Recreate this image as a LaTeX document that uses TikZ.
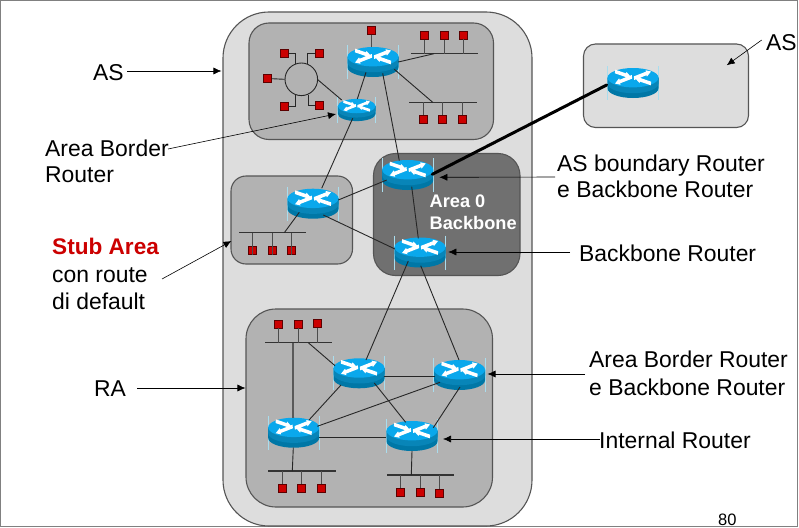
\documentclass[tikz,border=0pt]{standalone}
\usepackage{fontspec}
\usetikzlibrary{calc,arrows.meta}
\setmainfont{Liberation Sans}
\definecolor{asgrey}{HTML}{DDDDDD}
\definecolor{areagrey}{HTML}{B2B2B2}
\definecolor{bbgrey}{HTML}{707070}
\definecolor{edgegrey}{HTML}{555555}
\definecolor{framegrey}{HTML}{808080}
\definecolor{rtop}{HTML}{0AA8EC}
\definecolor{rside}{HTML}{0885B8}
\definecolor{rlow}{HTML}{0077A6}
\definecolor{rline}{HTML}{A9DDEE}
\definecolor{hostred}{HTML}{CC0000}
\definecolor{stubred}{HTML}{CC0000}
\newcommand{\zonebox}[8]{% name, x1, y1, x2, y2, radius, fill
  \node[zone,fill=#7,minimum width={(#4-#2)*1pt},minimum height={(#5-#3)*1pt},rounded corners=#6pt] (#1) at ({(#2+#4)/2},{(#3+#5)/2}) {};}
\newcommand{\hostn}[3]{\node[hostbox] (#1) at (#2,#3) {};}
\newcommand{\busn}[4]{\node[busline,minimum width=#4pt] (#1) at (#2,#3) {};}
% half ellipse, lower part, centred at height #1, from left to right
\newcommand{\lowhalf}[1]{(-25.5,#1) .. controls (-25.5,#1+5.36) and (-14.08,#1+9.7) .. (0,#1+9.7) .. controls (14.08,#1+9.7) and (25.5,#1+5.36) .. (25.5,#1)}
% router: name, cx, cy, scale
\newcommand{\routern}[4]{%
  \node[inner sep=0pt,minimum width=#4*52pt,minimum height=#4*30pt] (#1) at (#2,#3) {};
  \begin{scope}[shift={(#2,#3)},x=#4*1pt,y=-#4*1pt]
    \draw[rline,line width=0.7pt] (-25.8,-17)--(-25.8,17) (25.8,-17)--(25.8,17);
    \fill[rlow] \lowhalf{5.3} -- (25.5,-5.3) -- (-25.5,-5.3) -- cycle;
    \fill[rside] \lowhalf{0.5} -- (25.5,-5.3) -- (-25.5,-5.3) -- cycle;
    \fill[rtop] (0,-5.3) ellipse[x radius=25.5,y radius=9.7];
    \fill[white] (1.2,-3)--(13.4,-7.75)--(13.9,-6.35)--(18,-11.5)--(12.5,-12.75)--(13,-11.35)--(0.8,-6.6)--cycle;
    \fill[white] (-1.2,-8)--(-13.4,-3.25)--(-13.9,-4.65)--(-18,0.5)--(-12.5,1.75)--(-13,0.35)--(-0.8,-4.4)--cycle;
    \fill[white] (-18.2,-9.7)--(-7.35,-6)--(-7.85,-4.6)--(-2,-6)--(-6.45,-11)--(-6.95,-9.6)--(-17.8,-13.3)--cycle;
    \fill[white] (18.2,-1.3)--(7.35,-5)--(7.85,-6.4)--(2,-5)--(6.45,0)--(6.95,-1.4)--(17.8,2.3)--cycle;
  \end{scope}}
\newcommand{\lnk}[7][]{\draw[wire,#1] ($(#2)+(#3,#4)$) -- ($(#5)+(#6,#7)$);}
\tikzset{
  zone/.style={draw=edgegrey,line width=1.1pt,inner sep=0pt},
  hostbox/.style={draw=black!55!hostred,line width=0.7pt,fill=hostred,minimum size=8pt,inner sep=0pt},
  busline/.style={fill=black!80,minimum height=1.2pt,inner sep=0pt,outer sep=0pt},
  wire/.style={line width=0.9pt,color=black!85},
  stem/.style={line width=1pt,color=black!70},
  note/.style={line width=0.6pt,color=black,-{Latex[length=8pt,width=7pt]}},
  lab/.style={anchor=base west,inner sep=0pt,font=\fontsize{22.9}{26}\selectfont},
  whitelab/.style={anchor=base west,inner sep=0pt,text=white,font=\bfseries\fontsize{18.2}{20}\selectfont},
}
\begin{document}
\begin{tikzpicture}[x=1pt,y=-1pt]
\useasboundingbox (0,0) rectangle (799,527);
\fill[white] (0,0) rectangle (799,527);
\draw[framegrey,line width=1.3pt] (0.6,0.6) rectangle (797.8,526.2);
% areas
\zonebox{outer}{223}{12}{532}{526}{46}{asgrey}{}
\zonebox{topz}{249}{23}{493.5}{139.5}{20}{areagrey}{}
\zonebox{stubz}{231}{176}{352.5}{264}{15}{areagrey}{}
\zonebox{bbz}{373.5}{153.5}{520}{275.5}{22}{bbgrey}{}
\zonebox{raz}{246}{309}{492.5}{507}{30}{areagrey}{}
\zonebox{asr}{583.5}{44}{748.5}{127.5}{12}{asgrey}{}
% routers
\routern{rt}{373}{62}{1}
\routern{rs}{356.7}{110}{0.74}
\routern{ra}{633}{83}{1}
\routern{rb}{407.7}{175}{1}
\routern{rst}{313}{203.7}{1}
\routern{rl}{420}{252.5}{1}
\routern{ro}{359}{373.3}{1}
\routern{rw}{459.5}{375}{1}
\routern{rh}{293.7}{432.7}{1}
\routern{rf}{412}{436}{1}
% buses
\busn{bu}{444.5}{53.7}{67.5}
\busn{bv}{443}{102.3}{67.5}
\busn{bs}{272.7}{232.7}{67.5}
\busn{ba}{298.7}{342.7}{67.5}
\busn{bb}{302}{471}{67.5}
\busn{bc}{420.7}{475}{67.5}
% ring
\node[draw=black!85,line width=0.9pt,fill=areagrey,circle,minimum size=32.6pt,inner sep=0pt] (ring) at (301.3,79.3) {};
% hosts
\hostn{ht}{371.7}{30.3}
\hostn{hua}{424.3}{35.3}\hostn{hub}{444}{35.3}\hostn{huc}{463.7}{35}
\hostn{hva}{423.3}{119.3}\hostn{hvb}{442.7}{119.3}\hostn{hvc}{462.3}{119.7}
\hostn{hra}{284.3}{53.3}\hostn{hrb}{319.3}{53.3}\hostn{hrc}{267.3}{78.7}\hostn{hrd}{284}{106.3}\hostn{hre}{319.3}{105.3}
\hostn{hsa}{252.7}{250.3}\hostn{hsb}{272.3}{250.3}\hostn{hsc}{291.7}{250.3}
\hostn{haa}{278.7}{324}\hostn{hab}{298.3}{324}\hostn{hac}{317.7}{323.7}
\hostn{hba}{282.3}{488.3}\hostn{hbb}{301.7}{488}\hostn{hbc}{321.3}{488.7}
\hostn{hca}{400.7}{492.7}\hostn{hcb}{420.3}{492.7}\hostn{hcc}{439.7}{493}
% stems
\foreach \h/\b in {hua/bu,hub/bu,huc/bu,hsa/bs,hsb/bs,hsc/bs,haa/ba,hab/ba,hac/ba}
  \draw[stem] (\h.south) -- (\h.south |- \b);
\foreach \h/\b in {hva/bv,hvb/bv,hvc/bv,hba/bb,hbb/bb,hbc/bb,hca/bc,hcb/bc,hcc/bc}
  \draw[stem] (\h.north) -- (\h.north |- \b);
\draw[stem] (ht.south) -- (ht.south |- rt.north);
% ring hosts
\draw[wire] (hra.east) -| ($(ring)+(-5.6,-15.3)$);
\draw[wire] (hrb.west) -| ($(ring)+(6.4,-15.3)$);
\draw[wire] (hrc.east) -- (ring.west);
\draw[wire] (hrd.east) -| ($(ring)+(-5.6,15.3)$);
\draw[wire] (hre.west) -| ($(ring)+(7,15.3)$);
% connectors
\lnk{rt}{25.3}{0}{bu}{-10.5}{0}
\lnk{rt}{21.3}{7.3}{bv}{-10.3}{0}
\lnk{ring}{16}{0}{rs}{-15}{-10}
\lnk{rt}{-7}{10.3}{rs}{0.6}{-11}
\lnk{rs}{-4}{8.3}{rst}{8.7}{-15.4}
\lnk{rt}{9.7}{11.3}{rb}{-8.4}{-14.3}
\lnk[line width=3pt,color=black,line cap=round]{rb}{24.6}{-0.7}{ra}{-26.3}{2}
\lnk{rb}{-21}{5}{rst}{25.3}{-3.7}
\lnk{rb}{4}{11.7}{rl}{-1.7}{-14.2}
\lnk{rst}{10.3}{11.3}{rl}{-25}{-3.5}
\lnk{rst}{-13.7}{8.6}{bs}{11.6}{0}
\lnk{rl}{-11.7}{8.5}{ro}{7}{-13.3}
\lnk{rl}{0.7}{13.2}{rw}{-0.5}{-15}
\lnk[color=black!65,line width=1.1pt]{ba}{-5.7}{0}{rh}{-0.7}{-15}
\lnk{ba}{9.6}{0}{ro}{-24}{-7.6}
\lnk{ro}{25}{2.7}{rw}{-24.5}{1}
\lnk{ro}{-18}{11.7}{rh}{15.3}{-12.7}
\lnk{ro}{15.3}{9.7}{rf}{-6.3}{-13.7}
\lnk{rw}{-19.5}{7.3}{rh}{23.6}{-6.4}
\lnk{rw}{0.5}{12}{rf}{21.3}{-8.3}
\lnk{rh}{25}{4.6}{rf}{-26}{1.3}
\lnk{rh}{-0.4}{15}{bb}{-9.7}{0}
\lnk{rf}{0}{15}{bc}{-9.4}{0}
% labels
\node[lab] (tas) at (93,80) {AS};
\node[lab] (tabr) at (45,156) {Area Border};
\node[lab] (tabrb) at (45,182) {Router};
\node[lab,font=\bfseries\fontsize{22.6}{26}\selectfont,text=stubred] (tstub) at (52,254) {Stub Area};
\node[lab] (tcon) at (52,282) {con route};
\node[lab] (tdef) at (52,309) {di default};
\node[lab] (tra) at (94,396) {RA};
\node[lab] (tasb) at (557,171) {AS boundary Router};
\node[lab] (tasc) at (557,197) {e Backbone Router};
\node[lab] (tbb) at (579,261) {Backbone Router};
\node[lab] (tara) at (589,367) {Area Border Router};
\node[lab] (tarb) at (589,395) {e Backbone Router};
\node[lab] (tint) at (599,448) {Internal Router};
\node[lab] (tasr) at (766,50) {AS};
\node[anchor=base west,inner sep=0pt,font=\fontsize{16.5}{18}\selectfont] (tnum) at (718,525.3) {80};
\node[whitelab] (tar0) at (429.5,207) {Area 0};
\node[whitelab] (tar1) at (429.5,229) {Backbone};
% annotation arrows
\coordinate (sas) at (127,71);
\coordinate (sabr) at (168,149);
\coordinate (sstub) at (162,279);
\coordinate (sra) at (137,388);
\coordinate (sasb) at (555,177);
\coordinate (sbb) at (570,252);
\coordinate (sar) at (585,374);
\coordinate (sint) at (600,439);
\coordinate (sasr) at (761.7,40);
\draw[note] (sas) -- ($(outer.west)+(-1,-198)$);
\draw[note] (sabr) -- ($(rs)+(-20.7,4)$);
\draw[note] (sstub) -- ($(stubz.west)+(1,21)$);
\draw[note] (sra) -- ($(raz.west)+(0,-20)$);
\draw[note] (sasb) -- ($(rb)+(31.6,2.3)$);
\draw[note] (sbb) -- ($(rl)+(28.3,-0.5)$);
\draw[note] (sar) -- ($(rw)+(28,-1)$);
\draw[note] (sint) -- ($(rf)+(31,3)$);
\draw[note] (sasr) -- ($(asr)+(60.7,-20.5)$);
\end{tikzpicture}
\end{document}
